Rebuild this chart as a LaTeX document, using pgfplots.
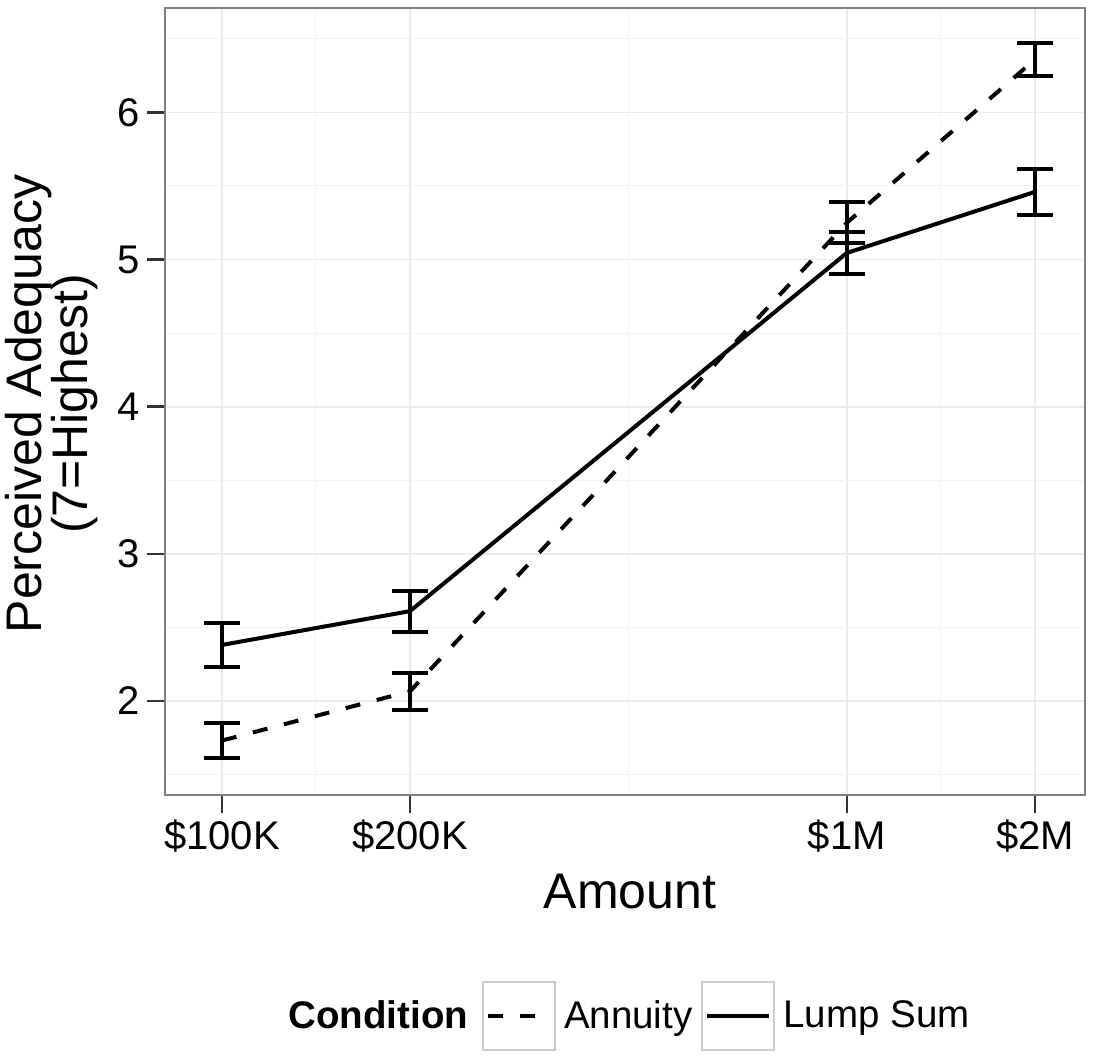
\documentclass[border=0pt]{standalone}
\usepackage{pgfplots}
\pgfplotsset{compat=1.18}
\usepackage{fontspec}
\setmainfont{Liberation Sans}
\definecolor{gridmaj}{HTML}{EBEBEB}
\definecolor{gridmin}{HTML}{F3F3F3}
\definecolor{border}{HTML}{7F7F7F}
\definecolor{keybox}{HTML}{CCCCCC}
\begin{document}
\begin{tikzpicture}
\path[use as bounding box] (0,0) rectangle (547pt,528.5pt);
\begin{axis}[
  at={(82.5pt,131pt)}, anchor=south west,
  width=460pt, height=393.5pt, scale only axis,
  xmode=log, log basis x=10,
  xmin=81100, xmax=2405000, ymin=1.36, ymax=6.71,
  xtick={100000,200000,1000000,2000000},
  xticklabels={\$100K,\$200K,\$1M,\$2M},
  minor xtick={141421,447214,1414214},
  ytick={2,3,4,5,6},
  yticklabels={2,3,4,5,6},
  minor ytick={1.5,2.5,3.5,4.5,5.5,6.5},
  grid=both,
  major grid style={color=gridmaj, line width=0.9pt},
  minor grid style={color=gridmin, line width=0.5pt},
  axis line style={color=border, line width=1pt},
  tick align=outside, xtick pos=bottom, ytick pos=left,
  major tick length=9pt, minor tick length=0pt,
  tick style={color=black!80, line width=1.2pt},
  ticklabel style={font=\fontsize{20}{24}\selectfont, text=black},
  xlabel={Amount},
  xlabel style={font=\fontsize{25}{30}\selectfont, at={(axis description cs:0.5054,0)}, anchor=base, yshift=-56.5pt},
  ylabel={Perceived Adequacy\\[-1pt](7=Highest)},
  ylabel style={font=\fontsize{25}{24}\selectfont, align=center, at={(axis description cs:-0.0650,0.4968)}, anchor=south},
  legend columns=-1,
  legend style={draw=none, fill=none, at={(axis description cs:0.5043,-0.2808)}, anchor=center,
    font=\fontsize{19.25}{22}\selectfont, inner sep=0pt,
    /tikz/every even column/.append style={column sep=0pt},
    nodes={inner xsep=4.25pt, inner ysep=0pt}},
]
\addlegendimage{empty legend}
\addlegendentry{\textbf{Condition}\kern2.5pt}

\addplot[black, line width=2pt, dash pattern=on 7.5pt off 8.5pt,
  legend image code/.code={
    \draw[solid, line width=1pt, color=keybox] (0pt,-17pt) rectangle (36pt,17pt);
    \draw[black, line width=2pt, dash pattern=on 7.5pt off 8.5pt] (2.5pt,0pt) -- (33.5pt,0pt);},
  error bars/.cd, y dir=both, y explicit, error mark=|,
  error bar style={solid, line width=2pt},
  error mark options={solid, line width=2pt, mark size=9pt}
] coordinates {
  (100000,1.73)  +- (0,0.12)
  (200000,2.065) +- (0,0.125)
  (1000000,5.25) +- (0,0.14)
  (2000000,6.36) +- (0,0.11)
};
\addlegendentry{Annuity}

\addplot[black, line width=2pt, solid,
  legend image code/.code={
    \draw[solid, line width=1pt, color=keybox] (0pt,-17pt) rectangle (36pt,17pt);
    \draw[black, line width=2pt, solid] (2.5pt,0pt) -- (33.5pt,0pt);},
  error bars/.cd, y dir=both, y explicit, error mark=|,
  error bar style={solid, line width=2pt},
  error mark options={solid, line width=2pt, mark size=9pt}
] coordinates {
  (100000,2.38)  +- (0,0.15)
  (200000,2.61)  +- (0,0.14)
  (1000000,5.045) +- (0,0.145)
  (2000000,5.46) +- (0,0.155)
};
\addlegendentry{Lump Sum}
\end{axis}
\end{tikzpicture}
\end{document}
